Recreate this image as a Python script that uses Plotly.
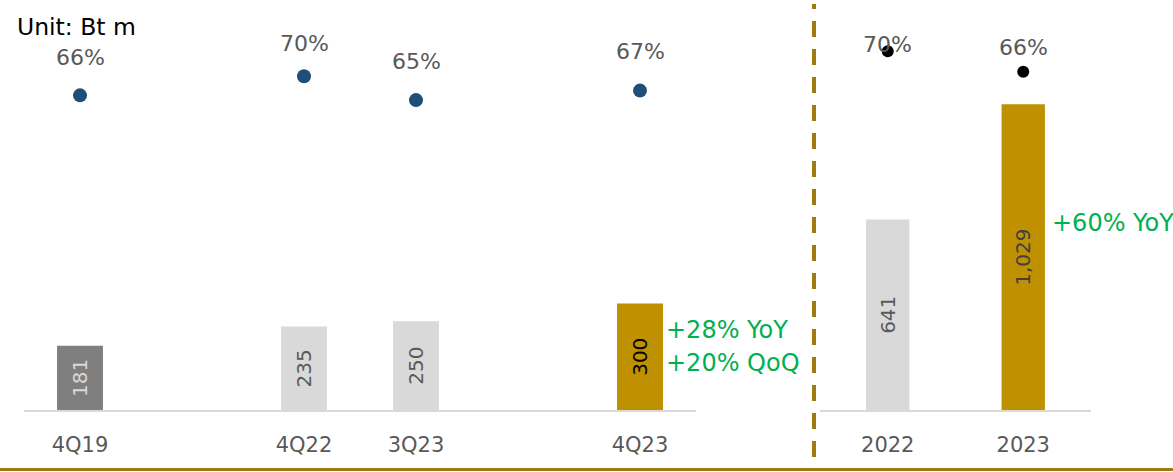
import plotly.graph_objects as go

# ---------------- data ----------------
quarters = ["4Q19", " ", "4Q22", "3Q23", "  ", "4Q23"]
quarter_values = [181, None, 235, 250, None, 300]
quarter_margin = [66, None, 70, 65, None, 67]
quarter_colors = ["#7F7F7F", "#FFFFFF", "#D9D9D9", "#D9D9D9", "#FFFFFF", "#BF9000"]
quarter_text_colors = ["#D9D9D9", "#595959", "#595959", "#595959", "#595959", "#000000"]
quarter_label_shift = [38, 0, 33, 39, 0, 39]

years = ["2022", "2023"]
year_values = [641, 1029]
year_margin = [70, 66]
year_colors = ["#D9D9D9", "#BF9000"]
year_text_colors = ["#595959", "#404040"]
year_label_shift = [7, 24]

unit_label = "Unit: Bt m"
quarter_growth = ["+28% YoY", "+20% QoQ"]
year_growth = "+60% YoY"

# ---------------- layout constants ----------------
W, H = 1173, 472
FONT = "DejaVu Sans"
GOLD_LINE = "#9E7B0E"
GREEN = "#00B050"
GREY_TXT = "#595959"


def px_x(x):
    return x / W


def px_y(y):
    return (H - y) / H


def fmt(v):
    return "" if v is None else f"{v:,}"


fig = go.Figure()

# left panel bars
fig.add_trace(go.Bar(
    x=quarters, y=quarter_values, xaxis="x", yaxis="y",
    marker=dict(color=quarter_colors, line=dict(width=0)),
    width=0.41,
    text=[fmt(v) for v in quarter_values],
    textposition="inside", insidetextanchor="middle", textangle=-90,
    insidetextfont=dict(family=FONT, size=20, color=quarter_text_colors),
    cliponaxis=False, showlegend=False, hoverinfo="skip",
))
# left panel margin dots
fig.add_trace(go.Scatter(
    x=quarters, y=quarter_margin, xaxis="x", yaxis="y3",
    mode="markers", marker=dict(color="#1F4E79", size=14),
    cliponaxis=False, showlegend=False, hoverinfo="skip",
))

# right panel bars
fig.add_trace(go.Bar(
    x=years, y=year_values, xaxis="x2", yaxis="y2",
    marker=dict(color=year_colors, line=dict(width=0)),
    width=0.32,
    text=[fmt(v) for v in year_values],
    textposition="inside", insidetextanchor="middle", textangle=-90,
    insidetextfont=dict(family=FONT, size=20, color=year_text_colors),
    cliponaxis=False, showlegend=False, hoverinfo="skip",
))
fig.add_trace(go.Scatter(
    x=years, y=year_margin, xaxis="x2", yaxis="y4",
    mode="markers", marker=dict(color="#000000", size=12),
    cliponaxis=False, showlegend=False, hoverinfo="skip",
))

annotations = []
for i, (m, s) in enumerate(zip(quarter_margin, quarter_label_shift)):
    if m is None:
        continue
    annotations.append(dict(x=i, y=m, xref="x", yref="y3", text=f"{m}%",
                            showarrow=False, yshift=s,
                            font=dict(family=FONT, size=22, color=GREY_TXT)))
for i, (m, s) in enumerate(zip(year_margin, year_label_shift)):
    annotations.append(dict(x=i, y=m, xref="x2", yref="y4", text=f"{m}%",
                            showarrow=False, yshift=s,
                            font=dict(family=FONT, size=22, color=GREY_TXT)))

annotations.append(dict(x=px_x(15), y=px_y(27), xref="paper", yref="paper",
                        xanchor="left", yanchor="middle", text=unit_label,
                        showarrow=False, font=dict(family=FONT, size=23.5, color="#000000")))
for i, g in enumerate(quarter_growth):
    annotations.append(dict(x=px_x(664), y=px_y(330 + 33 * i), xref="paper", yref="paper",
                            xanchor="left", yanchor="middle", text=g, showarrow=False,
                            font=dict(family=FONT, size=24, color=GREEN)))
annotations.append(dict(x=px_x(1050), y=px_y(223), xref="paper", yref="paper",
                        xanchor="left", yanchor="middle", text=year_growth, showarrow=False,
                        font=dict(family=FONT, size=24, color=GREEN)))

axis_common = dict(
    type="category", showline=True, linecolor="#D9D9D9", linewidth=2,
    ticks="outside", ticklen=15, tickcolor="rgba(0,0,0,0)",
    tickfont=dict(family=FONT, size=21, color=GREY_TXT),
    showgrid=False, zeroline=False, fixedrange=True,
)
ydom = [px_y(410), 1.0]
yhidden = dict(visible=False, showgrid=False, zeroline=False, fixedrange=True)

fig.update_layout(
    width=W, height=H,
    margin=dict(l=0, r=0, t=0, b=0),
    paper_bgcolor="white", plot_bgcolor="white",
    xaxis=dict(domain=[px_x(24), px_x(696)], anchor="y",
               categoryorder="array", categoryarray=quarters,
               range=[-0.5, len(quarters) - 0.5], **axis_common),
    xaxis2=dict(domain=[px_x(820), px_x(1091)], anchor="y2",
                categoryorder="array", categoryarray=years,
                range=[-0.5, len(years) - 0.5], **axis_common),
    yaxis=dict(domain=ydom, anchor="x", range=[0, 1155], **yhidden),
    yaxis2=dict(domain=ydom, anchor="x2", range=[0, 1380], **yhidden),
    yaxis3=dict(domain=ydom, anchor="x", overlaying="y", range=[0, 86], **yhidden),
    yaxis4=dict(domain=ydom, anchor="x2", overlaying="y2", range=[0, 80], **yhidden),
    annotations=annotations,
    shapes=[
        dict(type="line", xref="paper", yref="paper",
             x0=px_x(814), x1=px_x(814), y0=px_y(457), y1=px_y(4),
             line=dict(color=GOLD_LINE, width=4, dash="16px,12px")),
        dict(type="line", xref="paper", yref="paper",
             x0=0, x1=1, y0=px_y(469.5), y1=px_y(469.5),
             line=dict(color=GOLD_LINE, width=3)),
    ],
    showlegend=False,
)

fig.write_html("out.html")
